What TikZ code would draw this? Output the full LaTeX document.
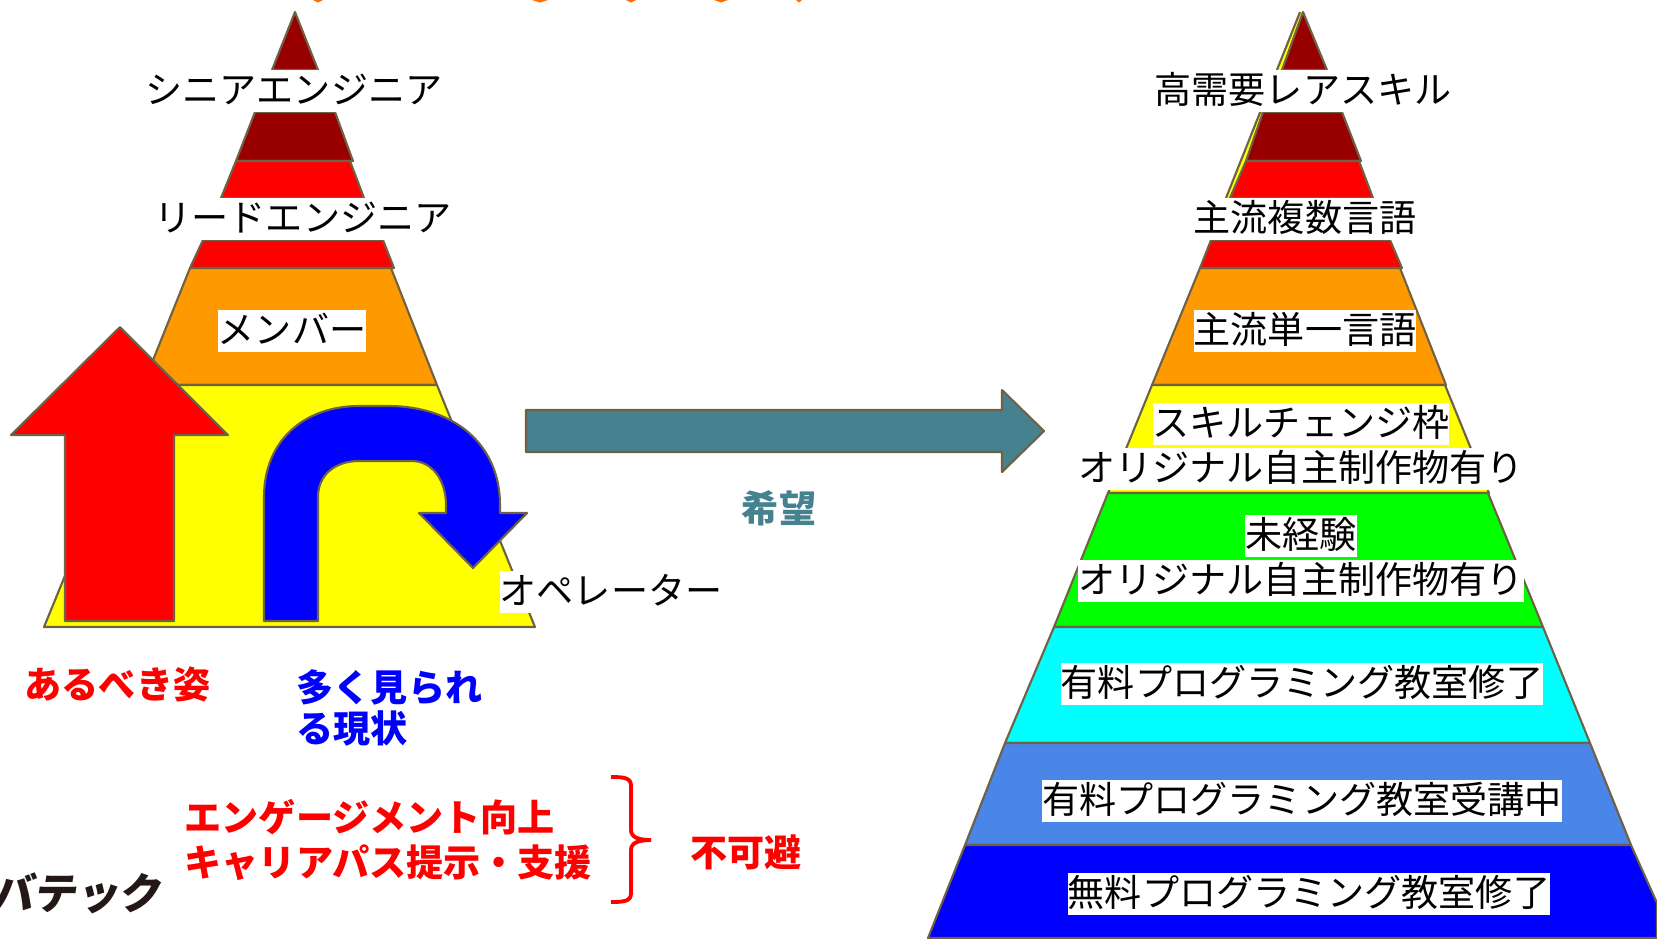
\documentclass[tikz,border=0pt]{standalone}
\usepackage{fontspec}
\setmainfont{Noto Sans CJK JP}
\usepackage{xcolor}
\definecolor{edgecol}{HTML}{6F6146}
\definecolor{darkredcol}{HTML}{980000}
\definecolor{redcol}{HTML}{FF0000}
\definecolor{orangecol}{HTML}{FF9900}
\definecolor{yellowcol}{HTML}{FFFF00}
\definecolor{greencol}{HTML}{00FF00}
\definecolor{cyancol}{HTML}{00FFFF}
\definecolor{cornflower}{HTML}{4A86E8}
\definecolor{bluecol}{HTML}{0000FF}
\definecolor{tealcol}{HTML}{45818E}
\definecolor{topcol}{HTML}{FF6D01}
\definecolor{logocol}{HTML}{231815}
\tikzset{
	layer/.style={draw=edgecol,line width=0.6pt,line join=round},
	lbl/.style={fill=white,inner xsep=0pt,inner ysep=0pt,minimum height=0.42cm,text height=0.31cm,text depth=0.06cm,font=\fontsize{10.55}{12.6}\selectfont},
	redlbl/.style={inner sep=0pt,text=redcol,align=left,font=\fontsize{10.55}{12.75}\selectfont\bfseries},
	bluelbl/.style={inner sep=0pt,text=bluecol,align=left,font=\fontsize{10.55}{11.8}\selectfont\bfseries}
}
\begin{document}
\begin{tikzpicture}[x=0.01cm,y=-0.01cm]
	\useasboundingbox (0,0) rectangle (1657,938);
	
	\foreach \x/\w in {318/5,540/8,631/5,721/7,799/3}
		\fill[topcol] (\x-\w,0) -- (\x+\w,0) -- (\x,2.5) -- cycle;
	
	\draw[layer,fill=darkredcol] (295,12) -- (272,70) -- (318,70) -- cycle;
	\draw[layer,fill=darkredcol] (255,112) -- (335,112) -- (353,161) -- (236,161) -- cycle;
	\draw[layer,fill=redcol] (236,161) -- (350,161) -- (364,198) -- (221,198) -- cycle;
	\draw[layer,fill=redcol] (203,240) -- (383,240) -- (394,268) -- (190,268) -- cycle;
	\draw[layer,fill=orangecol] (190,268) -- (391,268) -- (437,385) -- (143,385) -- cycle;
	\draw[layer,fill=yellowcol] (143,385) -- (437,385) -- (535,627) -- (44,627) -- cycle;
	
	\draw[layer,fill=redcol] (120,327) -- (228,435) -- (174,435) -- (174,621) -- (65,621) -- (65,435) -- (11,435) -- cycle;
	\draw[layer,fill=bluecol] (264,621) -- (264,497) .. controls (264,440) and (305,406) .. (359,406)
		-- (388,406) .. controls (455,406) and (500,445) .. (500,505) -- (500,513) -- (527,513) -- (473,568)
		-- (419,513) -- (446,513) -- (446,505) .. controls (446,480) and (432,461) .. (412,461)
		-- (359,461) .. controls (335,461) and (318,475) .. (318,497) -- (318,621) -- cycle;
	
	\draw[layer,fill=tealcol] (526,410) -- (1002,410) -- (1002,390) -- (1044,431) -- (1002,472) -- (1002,452) -- (526,452) -- cycle;
	
	\fill[yellowcol] (1300,12) -- (1226,198) -- (1236,198) -- (1303,14) -- cycle;
	\draw[layer] (1300,12) -- (1226,198);
	\draw[layer,fill=darkredcol] (1303,12) -- (1282,70) -- (1327,70) -- cycle;
	\draw[layer,fill=darkredcol] (1263,112) -- (1342,112) -- (1361,161) -- (1246,161) -- cycle;
	\draw[layer,fill=redcol] (1246,161) -- (1359,161) -- (1373,198) -- (1230,198) -- cycle;
	\draw[layer,fill=redcol] (1211,240) -- (1390,240) -- (1402,268) -- (1200,268) -- cycle;
	\draw[layer,fill=orangecol] (1200,268) -- (1400,268) -- (1446,385) -- (1152,385) -- cycle;
	\draw[layer,fill=yellowcol] (1152,385) -- (1445,385) -- (1489,493) -- (1108,493) -- cycle;
	\draw[layer,fill=greencol] (1108,493) -- (1488,493) -- (1543,627) -- (1054,627) -- cycle;
	\draw[layer,fill=cyancol] (1054,627) -- (1543,627) -- (1590,743) -- (1005,743) -- cycle;
	\draw[layer,fill=cornflower] (1005,743) -- (1590,743) -- (1631,845) -- (965,845) -- cycle;
	\draw[layer,fill=bluecol] (965,845) -- (1631,845) -- (1657,903) -- (1657,938) -- (928,938) -- cycle;
	
	\node[lbl] (senior) at (294,91) {シニアエンジニア};
	\node[lbl] (lead) at (303,219) {リードエンジニア};
	\node[lbl] (member) at (292,331) {メンバー};
	\node[lbl] (operator) at (611,592) {オペレーター};
	
	\node[lbl] (rare) at (1303,91) {高需要レアスキル};
	\node[lbl] (multi) at (1305,219) {主流複数言語};
	\node[lbl] (single) at (1305,331) {主流単一言語};
	\node[lbl] (change) at (1301,424) {スキルチェンジ枠};
	\node[lbl] (selfA) at (1301,469) {オリジナル自主制作物有り};
	\node[lbl] (novice) at (1301,536) {未経験};
	\node[lbl] (selfB) at (1301,581) {オリジナル自主制作物有り};
	\node[lbl] (paidDone) at (1302,684) {有料プログラミング教室修了};
	\node[lbl] (paidNow) at (1302,801) {有料プログラミング教室受講中};
	\node[lbl] (freeDone) at (1309,894) {無料プログラミング教室修了};
	
	\node[inner sep=0pt,text=tealcol,font=\fontsize{10.55}{12.6}\selectfont\bfseries] (hope) at (779,508) {希望};
	\node[redlbl,anchor=west] (ideal) at (24,684) {あるべき姿};
	\node[bluelbl,anchor=west] (reality) at (296,708) {多く見られ\\る現状};
	\node[redlbl,anchor=west] (engage) at (184,840) {エンゲージメント向上\\キャリアパス提示・支援};
	\node[redlbl,anchor=west] (must) at (690,852) {不可避};
	
	\coordinate (bT) at (611,777);
	\coordinate (bB) at (611,902);
	\coordinate (bM) at (651,840);
	\draw[redcol,line width=1.1pt] (bT) .. controls (625,777) and (631,778) .. (631,786) -- (631,830)
		.. controls (631,837) and (638,840) .. (bM) .. controls (638,840) and (631,843) .. (631,850)
		-- (631,893) .. controls (631,901) and (625,902) .. (bB);
	
	\node[anchor=west,inner sep=0pt,text=logocol,xslant=0.15,transform shape,font=\fontsize{12.2}{14}\selectfont\bfseries] (logo) at (-8,893) {バテック};
\end{tikzpicture}
\end{document}
